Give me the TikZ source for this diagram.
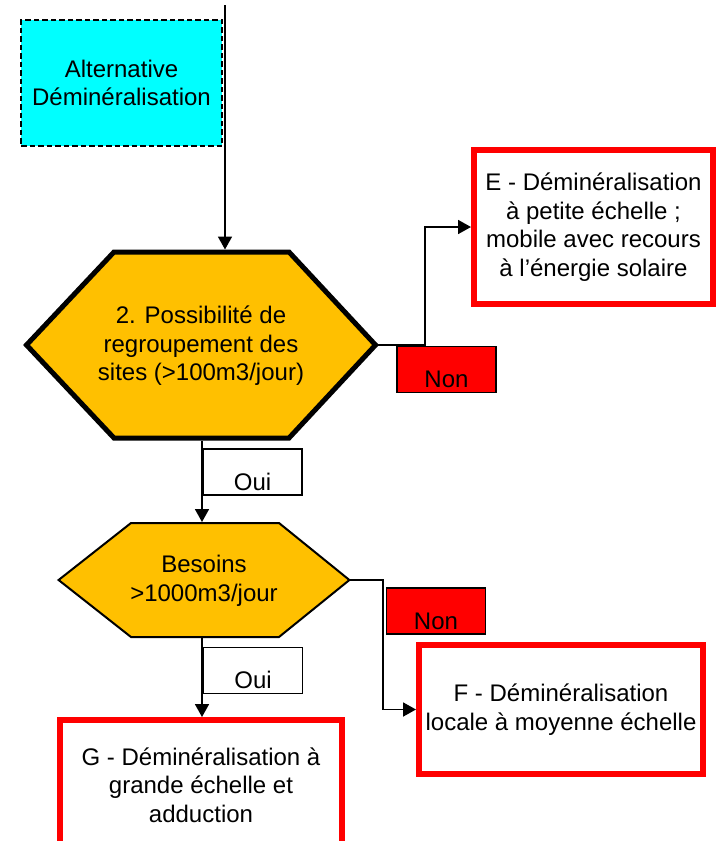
\documentclass[tikz,border=0pt]{standalone}
\usepackage{fontspec}
\setmainfont{Liberation Sans}
\usetikzlibrary{arrows.meta}
\definecolor{hexfill}{HTML}{FFC000}
\definecolor{alertred}{HTML}{FF0000}
\definecolor{altcyan}{HTML}{00FFFF}

\begin{document}
\begin{tikzpicture}[x=1pt,y=-1pt,
  every node/.style={font=\fontsize{24}{28.5}\selectfont, inner sep=0pt},
  conn/.style={line width=1.8pt, -{Triangle[length=13pt,width=14pt]}},
  outcome/.style={draw=alertred, line width=6pt, fill=white, align=center},
  tag/.style={draw=black, line width=1.8pt, minimum width=99pt, minimum height=46pt,
              text height=36pt, text depth=0pt},
  nontag/.style={tag, fill=alertred},
  ouitag/.style={tag, fill=white},
  altbox/.style={draw=black, line width=1.8pt, dash pattern=on 5.5pt off 3pt,
                 fill=altcyan, align=center},
  decision/.style={fill=hexfill, draw=black, line join=miter},
]
\useasboundingbox (0,0) rectangle (717,841);
\clip (0,0) rectangle (717,841);

% entry box
\node[altbox, minimum width=201pt, minimum height=126pt] (alt) at (121.5,83)
  {Alternative\\Déminéralisation};

% decision 1
\coordinate (h1w)  at (26.5,345);
\coordinate (h1nw) at (114,252);
\coordinate (h1ne) at (289,252);
\coordinate (h1e)  at (375.5,345);
\coordinate (h1se) at (289,438);
\coordinate (h1sw) at (114,438);
\draw[decision, line width=5pt] (h1w) -- (h1nw) -- (h1ne) -- (h1e) -- (h1se) -- (h1sw) -- cycle;
\node[align=center] (q1) at (201,346)
  {2. Possibilité de\\regroupement des\\sites (>100m3/jour)};
\coordinate (in1) at (225,249.5);
\coordinate (top) at (225,5);
\coordinate (h1s) at (202,440.5);

% decision 2
\coordinate (h2w)  at (58.6,580);
\coordinate (h2nw) at (131,523);
\coordinate (h2ne) at (279,523);
\coordinate (h2e)  at (349.4,580);
\coordinate (h2se) at (279,637);
\coordinate (h2sw) at (131,637);
\draw[decision, line width=2pt] (h2w) -- (h2nw) -- (h2ne) -- (h2e) -- (h2se) -- (h2sw) -- cycle;
\node[align=center] (q2) at (204,581) {Besoins\\>1000m3/jour};
\coordinate (h2n) at (202,522);
\coordinate (h2s) at (202,638);

% outcomes
\node[outcome, minimum width=239pt, minimum height=154pt] (E) at (593.5,227)
  {E - Déminéralisation\\à petite échelle ;\\mobile avec recours\\à l’énergie solaire};
\node[outcome, minimum width=284pt, minimum height=129pt] (F) at (561,709.5)
  {F - Déminéralisation\\locale à moyenne échelle};
\node[outcome, minimum width=282pt, minimum height=130pt] (G) at (201,785)
  {G - Déminéralisation à\\grande échelle et\\adduction};

% answer tags
\node[nontag] (non1) at (446.5,369.5) {Non};
\node[ouitag] (oui1) at (252.5,472) {Oui};
\node[nontag] (non2) at (436,611) {Non};
\node[ouitag] (oui2) at (253,670.5) {Oui};

% connectors
\draw[conn] (top) -- (in1);
\draw[conn] (h1e) -- ++(49.5,0) |- (E.west);
\draw[conn] (h1s) -- (h2n);
\draw[conn] (h2e) -- ++(33.6,0) |- (F.west);
\draw[conn] (h2s) -- (h2s |- G.north);
\end{tikzpicture}
\end{document}
